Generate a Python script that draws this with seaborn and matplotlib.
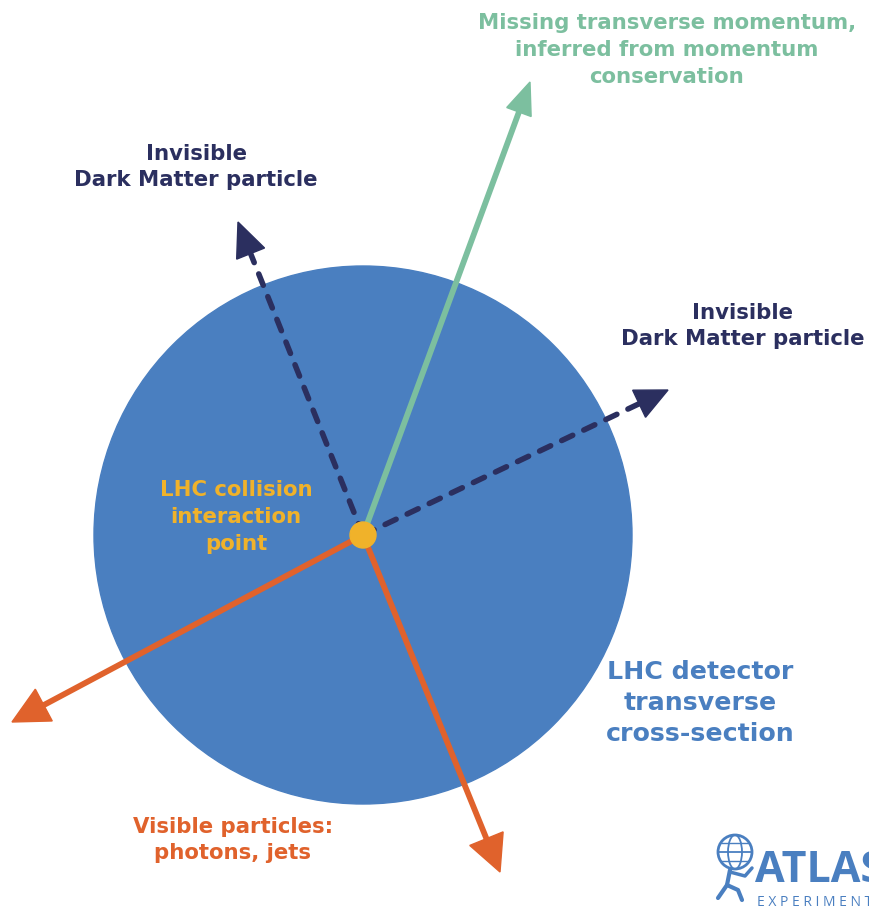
import numpy as np
import seaborn as sns
import matplotlib.pyplot as plt
from matplotlib.patches import Circle, Polygon, Ellipse

sns.set_theme(style="white")
plt.rcParams['font.family'] = ['DejaVu Sans']

# diagram data (pixel coordinates of the reference)
center = (363, 535)
detector_radius = 269
arrow_names = ["missing_et", "dm_left", "dm_right", "visible_left", "visible_down"]
arrow_tips_x = [530, 238, 668, 12, 500]
arrow_tips_y = [82, 222, 390, 722, 872]
arrow_dashed = [False, True, True, False, False]
arrow_colors = ["#7cbf9f", "#2b2f5f", "#2b2f5f", "#e0622c", "#e0622c"]
head_len = [32, 34, 32, 36, 36]
head_wid = [26, 30, 30, 36, 36]

labels = [
    "Missing transverse momentum,\ninferred from momentum\nconservation",
    "Invisible\nDark Matter particle",
    "Invisible\nDark Matter particle",
    "LHC collision\ninteraction\npoint",
    "LHC detector\ntransverse\ncross-section",
    "Visible particles:\nphotons, jets",
]
label_x = [667, 196, 743, 236, 700, 233]
label_y = [50, 167, 326, 517, 703, 840]
label_colors = ["#7cbf9f", "#2b2f5f", "#2b2f5f", "#f0b22a", "#4a7fc0", "#e0622c"]
label_sizes = [15.3, 15.3, 15.3, 15.3, 18.2, 15.3]
label_spacing = [1.42, 1.42, 1.42, 1.42, 1.36, 1.42]

fig = plt.figure(figsize=(8.69, 9.08), dpi=100)
ax = fig.add_axes([0, 0, 1, 1])
ax.set_xlim(0, 869)
ax.set_ylim(908, 0)
ax.set_aspect('equal')
ax.axis('off')

# detector
ax.add_patch(Circle(center, detector_radius, color="#4a7fc0", zorder=1))

# arrows
for i in range(len(arrow_names)):
    tip = np.array([arrow_tips_x[i], arrow_tips_y[i]], float)
    c = np.array(center, float)
    u = (tip - c) / np.linalg.norm(tip - c)
    n = np.array([-u[1], u[0]])
    base = tip - head_len[i] * u
    shaft_end = base + 4 * u
    if arrow_dashed[i]:
        ax.plot([c[0], shaft_end[0]], [c[1], shaft_end[1]], color=arrow_colors[i],
                lw=4.0, dashes=(2.2, 2.2), dash_capstyle='round', zorder=2)
    else:
        ax.plot([c[0], shaft_end[0]], [c[1], shaft_end[1]], color=arrow_colors[i],
                lw=4.2, solid_capstyle='butt', zorder=2)
    head = [tip, base + head_wid[i] / 2 * n, base - head_wid[i] / 2 * n]
    ax.add_patch(Polygon(head, closed=True, color=arrow_colors[i], zorder=3))

# collision point
ax.add_patch(Circle(center, 13, color="#f0b22a", zorder=4))

# labels
for i in range(len(labels)):
    ax.text(label_x[i], label_y[i], labels[i], color=label_colors[i], fontsize=label_sizes[i],
            fontweight='bold', ha='center', va='center', linespacing=label_spacing[i], zorder=5)

# ATLAS logo
logo = "#4a7fc0"
ax.add_patch(Circle((735, 852), 17, fill=False, ec=logo, lw=2, zorder=5))
ax.add_patch(Ellipse((735, 852), 14, 34, fill=False, ec=logo, lw=1.3, zorder=5))
ax.plot([718, 752], [852, 852], color=logo, lw=1.3)
ax.plot([721, 749], [843, 843], color=logo, lw=1.0)
ax.plot([721, 749], [861, 861], color=logo, lw=1.0)
ax.plot([730, 727, 718], [870, 885, 898], color=logo, lw=3, solid_capstyle='round')
ax.plot([727, 738, 742], [885, 890, 900], color=logo, lw=3, solid_capstyle='round')
ax.plot([730, 745, 752], [872, 876, 868], color=logo, lw=2.5, solid_capstyle='round')
ax.text(755, 870, "ATLAS", color=logo, fontsize=31, fontweight='bold', ha='left', va='center',
        family=['Open Sans', 'DejaVu Sans'])
ax.text(757, 902, "E X P E R I M E N T", color=logo, fontsize=10, ha='left', va='center',
        family=['Open Sans', 'DejaVu Sans'])

fig.savefig("out.png", dpi=100)
